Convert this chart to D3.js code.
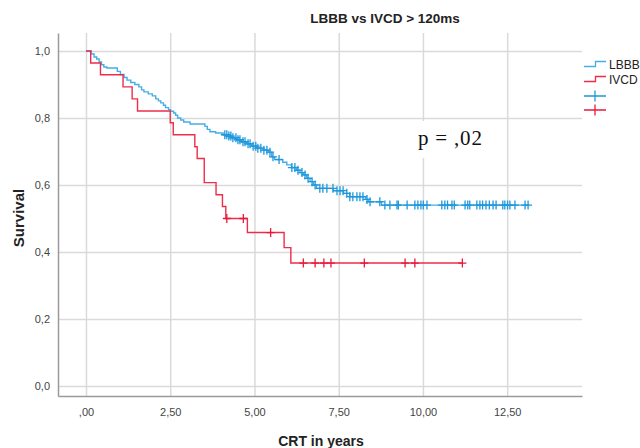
<!DOCTYPE html>
<html>
<head>
<meta charset="utf-8">
<script src="https://cdn.jsdelivr.net/npm/d3@7"></script>
<style>
    body { margin: 0; background: #fff; }
    svg { display: block; }
    text { font-family: Arial, "Liberation Sans", sans-serif; }
</style>
</head>
<body>
<svg id="chart" width="640" height="448"></svg>
<script>
const xTicks = [0, 2.5, 5, 7.5, 10, 12.5];
const xTickLabels = [',00', '2,50', '5,00', '7,50', '10,00', '12,50'];
const yTicks = [0, 0.2, 0.4, 0.6, 0.8, 1];
const yTickLabels = ['0,0', '0,2', '0,4', '0,6', '0,8', '1,0'];

// LBBB step curve: time where the step starts, survival from there on
const lbbbTimes = [0, 0.16, 0.24, 0.32, 0.39, 0.46, 0.53, 0.62, 0.93, 1.02, 1.13, 1.22, 1.33, 1.45, 1.57,
    1.65, 1.72, 1.85, 1.97, 2.07, 2.15, 2.22, 2.30, 2.36, 2.45, 2.51, 2.60, 2.66, 2.72, 2.81, 2.90, 3.09,
    3.53, 3.60, 3.68, 3.85, 4.07, 4.20, 4.35, 4.47, 4.62, 4.77, 4.92, 5.07, 5.25, 5.41, 5.51, 5.60, 5.84,
    5.96, 6.10, 6.25, 6.35, 6.45, 6.55, 6.65, 6.75, 6.84, 7.34, 7.64, 7.83, 8.30, 8.38, 8.77];
const lbbbSurv = [1, 0.991, 0.982, 0.976, 0.967, 0.959, 0.952, 0.949, 0.939, 0.930, 0.921, 0.913, 0.906, 0.900, 0.893,
    0.884, 0.878, 0.872, 0.866, 0.857, 0.851, 0.845, 0.838, 0.831, 0.825, 0.820, 0.815, 0.808, 0.800, 0.794, 0.788, 0.782,
    0.775, 0.766, 0.759, 0.755, 0.750, 0.746, 0.741, 0.735, 0.729, 0.723, 0.716, 0.710, 0.704, 0.698, 0.684, 0.676, 0.668,
    0.660, 0.652, 0.644, 0.637, 0.630, 0.620, 0.610, 0.600, 0.590, 0.583, 0.575, 0.565, 0.557, 0.550, 0.540];
const lbbbEnd = 13.15;
const lbbbCensor = [4.12, 4.18, 4.24, 4.30, 4.36, 4.45, 4.51, 4.57, 4.66, 4.72, 4.81, 4.87, 4.96, 5.04, 5.10,
    5.19, 5.28, 5.37, 5.46, 5.55, 5.73, 6.11, 6.20, 6.29, 6.41, 6.50, 6.59, 6.71, 6.80, 6.94, 7.03, 7.15,
    7.33, 7.45, 7.54, 7.63, 7.74, 7.83, 7.92, 8.04, 8.13, 8.22, 8.34, 8.43, 8.72, 8.87, 9.02, 9.23, 9.27,
    9.53, 9.76, 9.85, 9.94, 10.01, 10.12, 10.56, 10.65, 10.73, 10.86, 10.93, 11.25, 11.33, 11.39, 11.60,
    11.69, 11.77, 11.87, 11.97, 12.08, 12.17, 12.37, 12.43, 12.51, 12.58, 12.73, 13.03, 13.12];

// IVCD step curve
const ivcdTimes = [0, 0.14, 0.43, 1.10, 1.37, 1.53, 2.50, 2.59, 3.23, 3.30, 3.51, 3.86, 4.05, 4.15, 4.79, 5.88, 6.08];
const ivcdSurv = [1, 0.964, 0.929, 0.893, 0.857, 0.821, 0.786, 0.750, 0.714, 0.679, 0.607, 0.571, 0.536, 0.500, 0.458, 0.413, 0.367];
const ivcdEnd = 11.17;
const ivcdCensor = [4.18, 4.67, 5.48, 6.45, 6.80, 7.06, 7.27, 8.26, 9.47, 9.76, 11.17];

const blueLine = '#45aee6', blueMark = '#1e98dc';
const redLine = '#ee2d4a', redMark = '#e81a3c';

const svg = d3.select('#chart');
const plotLeft = 58, plotRight = 582, plotTop = 33, plotBottom = 396;

const x = d3.scaleLinear().domain([-0.83, 14.72]).range([plotLeft, plotRight]);
const y = d3.scaleLinear().domain([-0.0299, 1.0537]).range([plotBottom, plotTop]);

// axes with gridlines
const xAxis = svg.append('g')
    .attr('transform', `translate(0,${plotBottom})`)
    .call(d3.axisBottom(x)
        .tickValues(xTicks)
        .tickFormat((d, i) => xTickLabels[i])
        .tickSize(-(plotBottom - plotTop))
        .tickSizeOuter(0)
        .tickPadding(12));

const yAxis = svg.append('g')
    .attr('transform', `translate(${plotLeft},0)`)
    .call(d3.axisLeft(y)
        .tickValues(yTicks)
        .tickFormat((d, i) => yTickLabels[i])
        .tickSize(-(plotRight - plotLeft))
        .tickSizeOuter(0)
        .tickPadding(8));

[xAxis, yAxis].forEach(ax => {
    ax.selectAll('.tick line').attr('stroke', '#dadada').attr('stroke-width', 1.5);
    ax.selectAll('.tick text').attr('fill', '#444').style('font-size', '11px');
    ax.select('.domain').attr('stroke', '#9a9a9a').attr('stroke-width', 1.5).raise();
});

const line = d3.line()
    .x(d => x(d[0]))
    .y(d => y(d[1]))
    .curve(d3.curveStepAfter);

function drawCurve(times, surv, end, censor, lineColor, markColor) {
    let pts = times.map((t, i) => [t, surv[i]]);
    pts.push([end, surv[surv.length - 1]]);

    svg.append('path')
        .datum(pts)
        .attr('d', line)
        .attr('fill', 'none')
        .attr('stroke', lineColor)
        .attr('stroke-width', 1.4);

    let bis = d3.bisector(d => d).right;

    svg.append('g')
        .selectAll('path')
        .data(censor)
        .enter()
        .append('path')
        .attr('d', t => {
            let s = surv[Math.max(0, bis(times, t) - 1)];
            let cx = x(t), cy = y(s);
            return `M${cx - 4},${cy}H${cx + 4}M${cx},${cy - 4.5}V${cy + 4.5}`;
        })
        .attr('fill', 'none')
        .attr('stroke', markColor)
        .attr('stroke-width', 1.3);
}

drawCurve(lbbbTimes, lbbbSurv, lbbbEnd, lbbbCensor, blueLine, blueMark);
drawCurve(ivcdTimes, ivcdSurv, ivcdEnd, ivcdCensor, redLine, redMark);

// p-value box
svg.append('rect')
    .attr('x', 410).attr('y', 121).attr('width', 84).attr('height', 37)
    .attr('fill', '#fff');
svg.append('text')
    .attr('x', 418).attr('y', 145)
    .style('font-family', '"Times New Roman", "Liberation Serif", serif')
    .style('font-size', '21px')
    .style('letter-spacing', '0.8px')
    .attr('fill', '#111')
    .text('p = ,02');

// titles
svg.append('text')
    .attr('x', 385).attr('y', 23)
    .attr('text-anchor', 'middle')
    .style('font-size', '13.5px').style('font-weight', 'bold')
    .attr('fill', '#222')
    .text('LBBB vs IVCD > 120ms');

svg.append('text')
    .attr('transform', 'translate(24,218) rotate(-90)')
    .attr('text-anchor', 'middle')
    .style('font-size', '15px').style('font-weight', 'bold')
    .attr('fill', '#222')
    .text('Survival');

svg.append('text')
    .attr('x', 321).attr('y', 446)
    .attr('text-anchor', 'middle')
    .style('font-size', '14px').style('font-weight', 'bold')
    .attr('fill', '#222')
    .text('CRT in years');

// legend
const legend = svg.append('g');
[['LBBB', blueLine, 64], ['IVCD', redLine, 79]].forEach(([name, col, ly]) => {
    legend.append('path')
        .attr('d', `M584,${ly + 2.5}H595.5V${ly - 2.5}H606`)
        .attr('fill', 'none').attr('stroke', col).attr('stroke-width', 1.3);
    legend.append('text')
        .attr('x', 609).attr('y', ly + 4.5)
        .style('font-size', '12px').attr('fill', '#222')
        .text(name);
});
[[blueMark, 96], [redMark, 110]].forEach(([col, ly]) => {
    legend.append('path')
        .attr('d', `M584,${ly}H606M595,${ly - 5.5}V${ly + 5.5}`)
        .attr('fill', 'none').attr('stroke', col).attr('stroke-width', 1.3);
});
</script>
</body>
</html>
